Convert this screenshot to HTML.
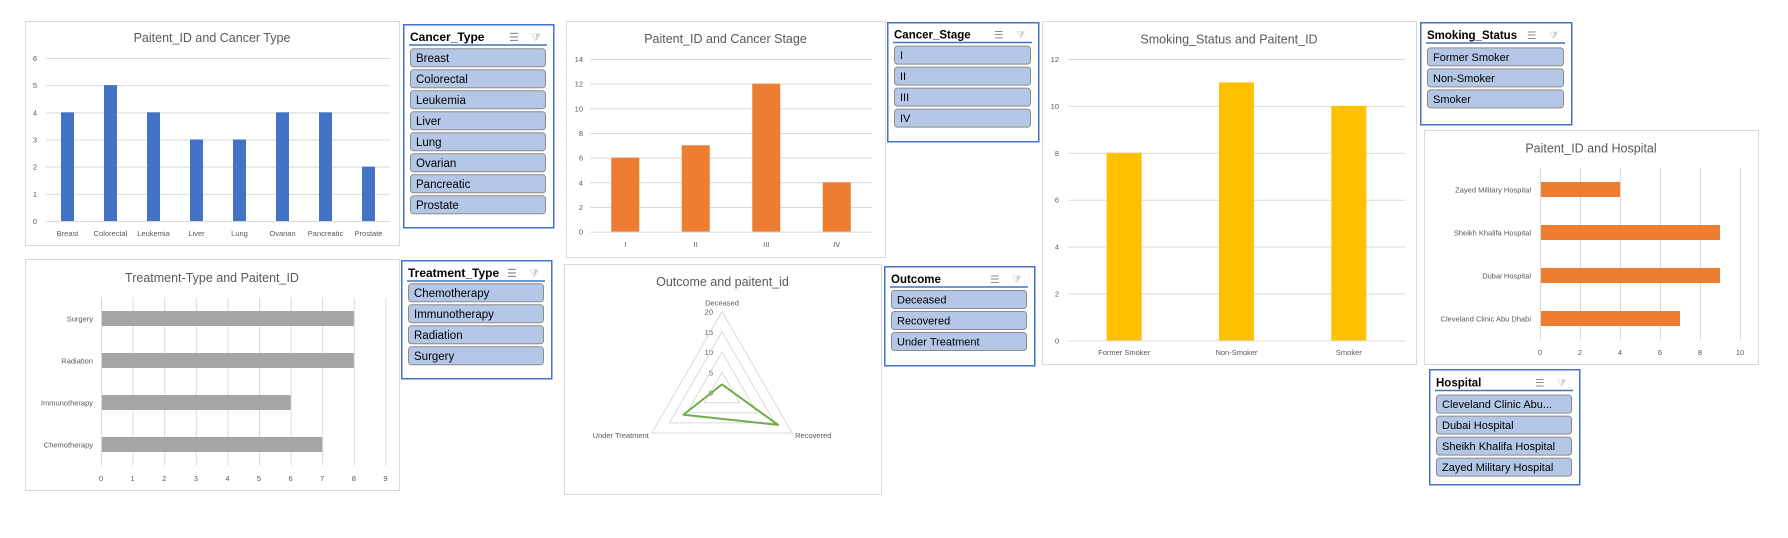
<!DOCTYPE html>
<html><head><meta charset="utf-8"><style>
html,body{margin:0;padding:0;background:#fff;}
svg{display:block;font-family:"Liberation Sans",sans-serif;}
</style></head><body>
<svg id="s" width="1788" height="538" viewBox="0 0 1788 538" xmlns="http://www.w3.org/2000/svg"></svg>
<script>
// ---- data ----
const cancerTypes = ["Breast","Colorectal","Leukemia","Liver","Lung","Ovarian","Pancreatic","Prostate"];
const cancerTypeCounts = [4,5,4,3,3,4,4,2];
const cancerTypeTicks = [0,1,2,3,4,5,6];
const treatmentTypes = ["Chemotherapy","Immunotherapy","Radiation","Surgery"];
const treatmentCounts = [7,6,8,8];
const treatmentTicks = [0,1,2,3,4,5,6,7,8,9];
const stages = ["I","II","III","IV"];
const stageCounts = [6,7,12,4];
const stageTicks = [0,2,4,6,8,10,12,14];
const outcomes = ["Deceased","Recovered","Under Treatment"];
const outcomeCounts = [2,16,11];
const outcomeTicks = [0,5,10,15,20];
const smoking = ["Former Smoker","Non-Smoker","Smoker"];
const smokingCounts = [8,11,10];
const smokingTicks = [0,2,4,6,8,10,12];
const hospitals = ["Cleveland Clinic Abu Dhabi","Dubai Hospital","Sheikh Khalifa Hospital","Zayed Military Hospital"];
const hospitalCounts = [7,9,9,4];
const hospitalTicks = [0,2,4,6,8,10];

const S = document.getElementById('s');
const NS = "http://www.w3.org/2000/svg";
function mk(tag, attrs, parent, txt){
  const e = document.createElementNS(NS, tag);
  for (const k in attrs) e.setAttribute(k, attrs[k]);
  if (txt !== undefined) e.textContent = txt;
  (parent||S).appendChild(e);
  return e;
}
function group(name){
  const g = mk('g', {});
  
  
  return g;
}
function chartBox(g, x, y, w, h, title, ty){
  const r = mk('rect', {x:x+0.5, y:y+0.5, width:w, height:h, fill:'#fff', stroke:'#d9d9d9'}, g);
  
  
  const t = mk('text', {x:x+w/2, y:ty+5, 'text-anchor':'middle', 'font-size':12.5, fill:'#595959'}, g, title);
  
  
}
function lbl(g, x, y, s, anchor, name, size){
  const t = mk('text', {x:x, y:y+3, 'text-anchor':anchor||'middle', 'font-size':size||7.5, fill:'#595959'}, g, s);
  
  
  return t;
}
function line(g, x1, y1, x2, y2, name){
  const l = mk('line', {x1:x1, y1:y1, x2:x2, y2:y2, stroke:'#d9d9d9', 'stroke-width':1}, g);
  
  
}
function colChart(name, bx, by, bw, bh, title, ty, cats, vals, ticks, x0, x1, yBase, yPerUnit, barW, color, ylx, xly){
  const g = group(name);
  chartBox(g, bx, by, bw, bh, title, ty);
  const yS = v => yBase - v*yPerUnit;
  const band = (x1-x0)/cats.length;
  ticks.forEach(t => { line(g, x0, yS(t)+0.5, x1, yS(t)+0.5, 'gridline'); lbl(g, ylx, yS(t), String(t), 'end', 'y-tick-label'); });
  cats.forEach((c,i) => {
    const cx = x0 + band*(i+0.5);
    const r = mk('rect', {x:cx-barW/2, y:yS(vals[i]), width:barW, height:yBase-yS(vals[i]), fill:color}, g);
    
    
    lbl(g, cx, xly, c, 'middle', 'x-tick-label');
  });
}
function barChart(name, bx, by, bw, bh, title, ty, cats, vals, ticks, xZero, xPerUnit, y0, y1, barH, color, labelRight, xly){
  const g = group(name);
  chartBox(g, bx, by, bw, bh, title, ty);
  const xS = v => xZero + v*xPerUnit;
  const band = (y1-y0)/cats.length;
  ticks.forEach(t => { line(g, xS(t)+0.5, y0, xS(t)+0.5, y1, 'gridline'); lbl(g, xS(t), xly, String(t), 'middle', 'x-tick-label'); });
  cats.forEach((c,i) => {
    const cy = y1 - band*(i+0.5);
    const r = mk('rect', {x:xZero+1, y:cy-barH/2, width:xS(vals[i])-xZero-1, height:barH, fill:color}, g);
    
    
    lbl(g, labelRight, cy, c, 'end', 'y-tick-label');
  });
}
function slicer(name, x, y, w, h, title, items, lineY, itemY, itemH, step, fs){
  const g = group(name);
  const b = mk('rect', {x:x+0.75, y:y+0.75, width:w, height:h, fill:'#fff', stroke:'#4472c4', 'stroke-width':1.5}, g);
  
  
  const t = mk('text', {x:x+7, y:lineY-4, 'font-size':fs, 'font-weight':'bold', fill:'#000'}, g, title);
  
  
  const ic = mk('text', {x:x+w-44, y:lineY-4, 'font-size':fs-1, fill:'#8a8a8a'}, g, '☰');
  
  
  const fc = mk('text', {x:x+w-22, y:lineY-4, 'font-size':fs-1, fill:'#d0d0d0'}, g, '⧩');
  
  
  mk('line', {x1:x+6, y1:lineY, x2:x+w-6, y2:lineY, stroke:'#4472c4', 'stroke-width':1.5}, g);
  items.forEach((it,i) => {
    const yy = itemY + step*i;
    const r = mk('rect', {x:x+7.5, y:yy+0.5, width:w-15, height:itemH, rx:3, fill:'#b4c7e7', stroke:'#8c8c8c'}, g);
    
    
    const tt = mk('text', {x:x+13, y:yy+itemH/2+fs*0.38, 'font-size':fs-0.5, fill:'#000'}, g, it);
    
    
  });
}

// Charts
colChart('cancer-type-chart', 25, 21, 374, 224, 'Paitent_ID and Cancer Type', 37, cancerTypes, cancerTypeCounts, cancerTypeTicks, 46, 390, 221, 27.17, 13, '#4472c4', 37, 233);
barChart('treatment-type-chart', 25, 259, 374, 231, 'Treatment-Type and Paitent_ID', 277, treatmentTypes, treatmentCounts, treatmentTicks, 101, 31.6, 297.5, 465.5, 15, '#a5a5a5', 93, 478);
colChart('cancer-stage-chart', 566, 21, 319, 236, 'Paitent_ID and Cancer Stage', 38, stages, stageCounts, stageTicks, 590, 872, 231.6, 12.33, 28, '#ed7d31', 583, 244);
colChart('smoking-status-chart', 1042, 21, 374, 343, 'Smoking_Status and Paitent_ID', 38.4, smoking, smokingCounts, smokingTicks, 1068, 1405, 340.4, 23.45, 35, '#ffc000', 1059, 352);
barChart('hospital-chart', 1424, 130, 334, 234, 'Paitent_ID and Hospital', 147.6, hospitals, hospitalCounts, hospitalTicks, 1540, 20, 168, 340, 15, '#ed7d31', 1531, 352);

// Radar
(function(){
  const g = group('outcome-radar-chart');
  chartBox(g, 564, 264, 317, 230, 'Outcome and paitent_id', 281);
  const cx = 722, cy = 392.5, maxV = 20, R = 81;
  const ang = i => -Math.PI/2 + i*2*Math.PI/outcomes.length;
  const pt = (v,i) => [cx + Math.cos(ang(i))*v/maxV*R, cy + Math.sin(ang(i))*v/maxV*R];
  outcomeTicks.forEach(t => {
    if (t>0){
      const p = mk('polygon', {points: outcomes.map((_,i)=>pt(t,i).join(',')).join(' '), fill:'none', stroke:'#d9d9d9'}, g);
      
      
    }
    lbl(g, cx-9, cy - t/maxV*R, String(t), 'end', 'radial-tick-label');
  });
  outcomes.forEach((o,i) => {
    const p = pt(maxV,i);
    lbl(g, p[0]+(i===1?3:(i===2?-3:0)), p[1]+(i===0?-9:2), o, i===0?'middle':(i===1?'start':'end'), 'category-label');
  });
  const s = mk('polygon', {points: outcomeCounts.map((v,i)=>pt(v,i).join(',')).join(' '), fill:'none', stroke:'#70ad47', 'stroke-width':2, 'stroke-linejoin':'round'}, g);
  
  
})();

// Slicers
slicer('cancer-type-slicer', 403, 24, 150, 203, 'Cancer_Type', cancerTypes, 45, 48.3, 18, 21, 12);
slicer('treatment-type-slicer', 401, 260, 150, 118, 'Treatment_Type', treatmentTypes, 281, 283.3, 18, 21, 12);
slicer('cancer-stage-slicer', 887, 22, 151, 119, 'Cancer_Stage', stages, 42.5, 45.6, 18, 21, 11.5);
slicer('outcome-slicer', 884, 266, 150, 99, 'Outcome', outcomes, 287, 290, 18, 21, 11.5);
slicer('smoking-status-slicer', 1420, 22, 151, 102, 'Smoking_Status', smoking, 43, 47.4, 18, 21, 11.5);
slicer('hospital-slicer', 1429, 369, 150, 115, 'Hospital', ["Cleveland Clinic Abu...","Dubai Hospital","Sheikh Khalifa Hospital","Zayed Military Hospital"], 390.5, 394.6, 18, 21, 11.5);
</script>
</body></html>
